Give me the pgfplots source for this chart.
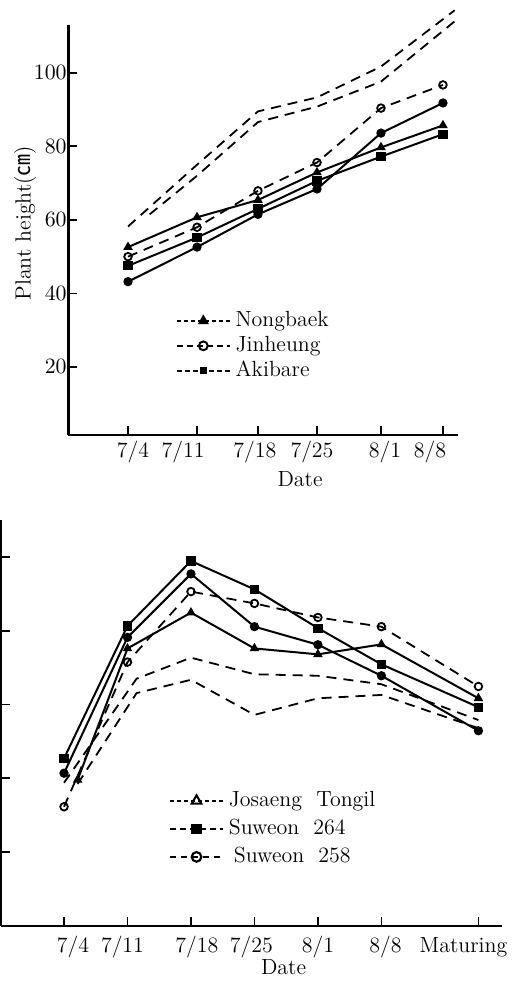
\documentclass[border=0pt]{standalone}
\usepackage{fontspec}
\usepackage{pgfplots}
\pgfplotsset{compat=1.18}
\newfontfamily\cjk{Noto Sans CJK JP}

\pgfplotsset{
  solidln/.style={black, line width=1bp, mark size=1.8bp, mark options={solid}},
  dashln/.style={black, line width=0.9bp, dash pattern=on 5bp off 3.5bp, mark size=1.9bp, mark options={solid, fill=white}},
  legend image code/.code={\draw[#1, mark repeat=2, mark phase=2] plot coordinates {(0bp,0bp) (13.25bp,0bp) (26.5bp,0bp)};},
  every tick label/.append style={font=\fontsize{11}{13}\selectfont},
  every axis label/.append style={font=\fontsize{11}{13}\selectfont},
  scan/.style={
    scale only axis, clip=false,
    axis x line*=bottom, axis y line*=left,
    tick align=inside, major tick length=4.5bp,
    tick style={black, line width=0.9bp},
    legend style={draw=none, fill=none, inner sep=0pt, anchor=north west,
      cells={anchor=west}, font=\fontsize{11}{13}\selectfont,
      nodes={inner ysep=0pt, inner xsep=2.5bp, text height=8bp, text depth=2.5bp}},
  },
}

\begin{document}
\begin{tikzpicture}
\path[use as bounding box] (0bp,0bp) rectangle (259bp,492.5bp);

% upper panel
\begin{axis}[scan,
  at={(34bp,275bp)}, anchor=south west,
  width=195bp, height=205bp,
  xmin=-6.67, xmax=36.67, ymin=1.5, ymax=113,
  x axis line style={line width=1bp}, y axis line style={line width=1.5bp},
  xtick={0,7.67,14.44,21,28.11,35},
  xticklabels={\hspace*{5bp}7/4,\hspace*{-14bp}7/11,\hspace*{-3bp}7/18,\hspace*{-5bp}7/25,\hspace*{4bp}8/1,\hspace*{-13bp}8/8},
  ytick={20,40,60,80,100},
  xticklabel style={anchor=base, yshift=-11.5bp},
  yticklabel style={anchor=east, inner xsep=0.5bp},
  xlabel={Date}, xlabel style={at={(axis description cs:0.595,0)}, anchor=base, yshift=-26bp},
  ylabel={Plant height({\cjk ㎝})}, ylabel style={at={(axis description cs:-0.11,0.517)}, anchor=center},
  legend style={at={(axis description cs:0.276,0.305)}, row sep=2bp},
]
\addplot[dashln, forget plot] coordinates {(0,58.2) (7.67,75.0) (14.44,89.5) (21,93.3) (28.11,101.7) (36.3,117)};
\addplot[dashln, forget plot] coordinates {(2.4,61.5) (7.67,72.0) (14.44,86.6) (21,90.8) (28.11,97.6) (36.3,114)};
\addplot[dashln, mark=o, forget plot] coordinates {(0,50.0) (7.67,58.0) (14.44,67.9) (21,75.6) (28.11,90.4) (35,96.7)};
\addplot[solidln, mark=triangle*, forget plot] coordinates {(0,52.6) (7.67,60.7) (14.44,65.4) (21,72.9) (28.11,79.7) (35,85.7)};
\addplot[solidln, mark=square*, forget plot] coordinates {(0,47.5) (7.67,55.2) (14.44,63.0) (21,70.6) (28.11,77.2) (35,83.3)};
\addplot[solidln, mark=*, forget plot] coordinates {(0,43.2) (7.67,52.6) (14.44,61.5) (21,68.4) (28.11,83.6) (35,91.8)};

\addlegendimage{black, line width=0.8bp, dash pattern=on 2bp off 1.5bp, mark=triangle*, mark size=2.4bp, mark options={solid}}
\addlegendentry{Nongbaek}
\addlegendimage{black, line width=0.8bp, dash pattern=on 3bp off 2bp, mark=o, mark size=2.2bp, mark options={solid, line width=1bp}}
\addlegendentry{Jinheung}
\addlegendimage{black, line width=0.8bp, dash pattern=on 2.5bp off 1.5bp, mark=square*, mark size=1.3bp, mark options={solid}}
\addlegendentry{Akibare}
\end{axis}

% lower panel (its y tick labels lie outside the cropped scan)
\begin{axis}[scan,
  at={(0.5bp,29.5bp)}, anchor=south west,
  width=250.5bp, height=203bp,
  xmin=-6.95, xmax=48.3, ymin=0, ymax=110,
  x axis line style={line width=1bp}, y axis line style={line width=1.3bp},
  xtick={0,7,14,21,28,35,45.7},
  xticklabels={\hspace*{9bp}7/4,\hspace*{-5bp}7/11,\hspace*{6bp}7/18,\hspace*{-3bp}7/25,8/1,\hspace*{4bp}8/8,\hspace*{-15bp}Maturing},
  ytick={20,40,60,80,100}, yticklabels={{},{},{},{},{}},
  xticklabel style={anchor=base, yshift=-13bp},
  xlabel={Date}, xlabel style={at={(axis description cs:0.564,0)}, anchor=base, yshift=-24bp},
  legend style={at={(axis description cs:0.335,0.335)}, row sep=3.5bp},
]
\addplot[solidln, mark=square*, forget plot] coordinates {(0,45.4) (7,81.3) (14,98.9) (21,91.2) (28,80.7) (35,70.9) (45.7,59.3)};
\addplot[solidln, mark=*, forget plot] coordinates {(0,41.4) (7,78.2) (14,95.4) (21,81.1) (28,76.2) (35,67.8) (45.7,52.9)};
\addplot[solidln, mark=triangle*, forget plot] coordinates {(1.5,39.6) (7,75.2) (14,84.9) (21,75.2) (28,73.6) (35,76.3) (45.7,61.7)};
\addplot[dashln, mark=o, forget plot] coordinates {(0,32.3) (7,71.5) (14,90.6) (21,87.4) (28,83.6) (35,81.1) (45.7,64.9)};
\addplot[dashln, forget plot] coordinates {(0,38.8) (8,67.0) (14,72.7) (21,68.2) (28,67.8) (35,65.5) (45.7,55.8)};
\addplot[dashln, forget plot] coordinates {(1.5,38.5) (8,63.1) (14,66.7) (21,57.2) (28,61.7) (35,62.6) (45.7,53.6)};

\addlegendimage{black, line width=0.8bp, dash pattern=on 2bp off 1.5bp, mark=triangle, mark size=2.8bp, mark options={solid, line width=1bp}}
\addlegendentry{Josaeng\ \ Tongil}
\addlegendimage{black, line width=0.8bp, dash pattern=on 3bp off 2bp, mark=square*, mark size=2.2bp, mark options={solid}}
\addlegendentry{Suweon\ \ 264}
\addlegendimage{black, line width=0.8bp, dash pattern=on 3bp off 2.5bp, mark=o, mark size=2.4bp, mark options={solid, line width=1.1bp}}
\addlegendentry{\hspace*{2.5bp}Suweon\ \ 258}
\end{axis}
\end{tikzpicture}
\end{document}
